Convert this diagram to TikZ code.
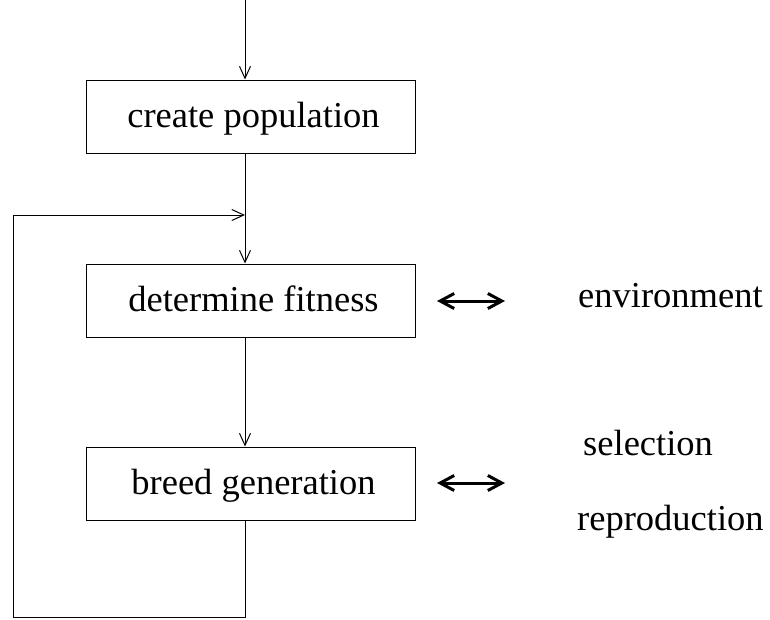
\documentclass[tikz,border=0pt]{standalone}
\usepackage{fontspec}
\setmainfont{Liberation Serif}
\usetikzlibrary{arrows.meta}

\tikzset{
  stepbox/.style={draw, line width=1pt, minimum width=329pt, minimum height=73pt,
    inner sep=0pt, text height=27pt, text depth=6pt},
  flow/.style={line width=1pt, -{Straight Barb[length=12pt,width=11pt,line width=1pt]}},
  link/.style={line width=3pt, {Straight Barb[length=14pt,width=15pt,line width=3pt]}-{Straight Barb[length=14pt,width=15pt,line width=3pt]}},
  word/.style={anchor=base west, inner sep=0pt}
}

\begin{document}
\begin{tikzpicture}[x=1pt, y=-1pt, font=\fontsize{36.5pt}{40pt}\selectfont]
  \useasboundingbox (0,0) rectangle (770,619);

  % main column of the flow
  \coordinate (start) at (245,0);
  \node[stepbox] (create) at (250.5,116.5) {\hspace{6pt}create population};
  \node[stepbox] (fitness) at (250.5,300.5) {\hspace{6pt}determine fitness};
  \node[stepbox] (breed) at (250.5,483.5) {\hspace{6pt}breed generation};

  % feedback loop corners
  \coordinate (loopin) at (245,215);
  \coordinate (bl) at (13,617);
  \coordinate (tl) at (13,215);

  \draw[flow] (start) -- (create.north -| start);
  \draw[flow] (create.south -| start) -- (fitness.north -| start);
  \draw[flow] (fitness.south -| start) -- (breed.north -| start);
  \draw[flow] (breed.south -| start) -- (start |- bl) -- (bl) -- (tl) -- (loopin);

  % interaction with the outside
  \coordinate (e1) at (437,301);
  \coordinate (e2) at (505,301);
  \coordinate (r1) at (437,483);
  \coordinate (r2) at (505,483);
  \draw[link] (e1) -- (e2);
  \draw[link] (r1) -- (r2);

  \node[word] (env) at (578,307) {environment};
  \node[word] (sel) at (583,455) {selection};
  \node[word] (rep) at (577,530) {reproduction};
\end{tikzpicture}
\end{document}
